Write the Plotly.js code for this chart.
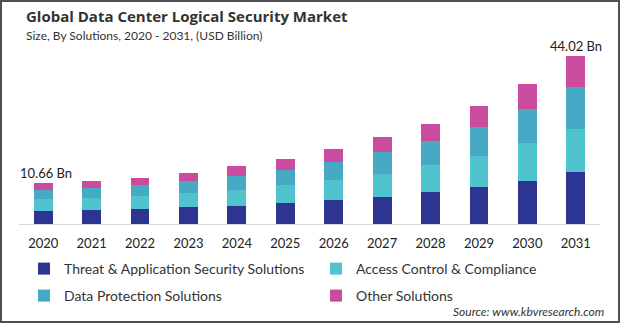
<!DOCTYPE html>
<html>
<head>
<meta charset="utf-8">
<script src="https://cdn.plot.ly/plotly-3.0.1.min.js"></script>
<style>
html,body{margin:0;padding:0;background:#fff;}
#wrap{position:relative;width:620px;height:323px;}
#chart{width:620px;height:323px;}
#frame{position:absolute;left:0;top:0;width:620px;height:323px;box-sizing:border-box;border:2px solid #505050;pointer-events:none;}
</style>
</head>
<body>
<div id="wrap"><div id="chart"></div><div id="frame"></div></div>
<script>
const years = ['2020','2021','2022','2023','2024','2025','2026','2027','2028','2029','2030','2031'];
const threatApp = [3.46, 3.72, 3.91, 4.51, 4.69, 5.47, 6.25, 7.03, 8.33, 9.64, 11.20, 13.54];
const accessControl = [3.12, 3.13, 3.47, 3.65, 4.25, 4.69, 5.21, 5.99, 7.03, 8.07, 9.90, 11.46];
const dataProtection = [2.27, 2.60, 2.78, 3.04, 3.56, 3.91, 4.69, 5.73, 6.25, 7.81, 9.11, 10.94];
const otherSolutions = [1.81, 1.74, 1.82, 2.08, 2.60, 2.86, 3.39, 3.91, 4.69, 5.47, 6.51, 8.08];
const seriesNames = ['Threat & Application Security Solutions','Access Control & Compliance','Data Protection Solutions','Other Solutions'];
const seriesColors = ['#2e3590','#4fc4cf','#47a9c4','#c94c9e'];
const totalLabels = ['10.66 Bn','44.02 Bn'];
const totalIdx = [0, 11];

const FONT = 'Lato, "Open Sans", sans-serif';
const allSeries = [threatApp, accessControl, dataProtection, otherSolutions];
const legendIds = ['legend','legend','legend2','legend2'];
const traces = allSeries.map((v,i)=>({
  type:'bar', x:years, y:v, name:seriesNames[i],
  marker:{color:seriesColors[i]}, legend:legendIds[i], hoverinfo:'skip'
}));

// plot area pixels: x 19..600, y 40..225
const L=19, R=600, T=40, B=225;
const px = x => (x-L)/(R-L);
const py = y => (B-y)/(B-T);
const totals = years.map((_,i)=>allSeries.reduce((s,a)=>s+a[i],0));

const annotations = totalIdx.map((idx,k)=>({
  x: idx, y: totals[idx], xref:'x', yref:'y', text: totalLabels[k],
  showarrow:false, yanchor:'bottom', yshift:0, xshift: k===0 ? 3 : 0,
  font:{family:FONT, size:13, color:'#222'}
}));
annotations.push({
  xref:'paper', yref:'paper', x:px(24), y:py(35), xanchor:'left', yanchor:'middle',
  text:'Size, By Solutions, 2020 - 2031, (USD Billion)', showarrow:false,
  font:{family:FONT, size:12, color:'#333'}
});
annotations.push({
  xref:'paper', yref:'paper', x:px(606), y:py(313), xanchor:'right', yanchor:'middle',
  text:'<i>Source: www.kbvresearch.com</i>', showarrow:false,
  font:{family:FONT, size:12, color:'#333'}
});

const layout = {
  width:620, height:323,
  margin:{l:L, r:620-R, t:T, b:323-B},
  paper_bgcolor:'#fff', plot_bgcolor:'#fff',
  barmode:'stack', bargap:0.61,
  showlegend:true,
  title:{text:'<b>Global Data Center Logical Security Market</b>', xref:'container', yref:'container',
         x:26/620, xanchor:'left', y:1-17/323, yanchor:'middle',
         font:{family:'"Open Sans", sans-serif', size:15, color:'#333'}},
  xaxis:{type:'category', range:[-0.5, 11.5], autorange:false, showline:true, linecolor:'#d9d9d9', linewidth:1,
         ticks:'outside', ticklen:7, tickcolor:'rgba(0,0,0,0)',
         tickfont:{family:FONT, size:13, color:'#222'}, showgrid:false, fixedrange:true},
  yaxis:{range:[0,48.18], autorange:false, visible:false, showgrid:false, zeroline:false, fixedrange:true},
  legend:{orientation:'h', x:px(24), xanchor:'left', y:py(269), yanchor:'middle',
          entrywidth:247, entrywidthmode:'pixels', traceorder:'normal',
          font:{family:FONT, size:14, color:'#333'}, bgcolor:'rgba(0,0,0,0)'},
  legend2:{orientation:'h', x:px(24), xanchor:'left', y:py(296), yanchor:'middle',
          entrywidth:247, entrywidthmode:'pixels', traceorder:'normal',
          font:{family:FONT, size:14, color:'#333'}, bgcolor:'rgba(0,0,0,0)'},
  annotations:annotations,
  hovermode:false
};

Plotly.newPlot('chart', traces, layout, {displayModeBar:false, staticPlot:true});
</script>
</body>
</html>
